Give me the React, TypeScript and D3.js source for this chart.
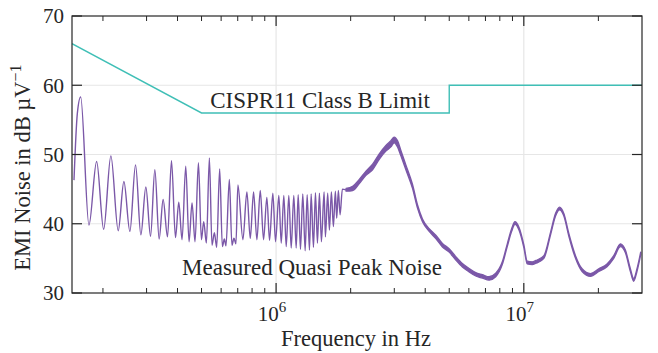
import React from "react";
import * as d3 from "d3";

// Measured quasi-peak noise, oscillating part (frequency in kHz, level in dB µV)
const oscFreqKHz = [
  152.8, 157.6, 162.6, 175.6, 188.6, 201.3, 215.3, 230.5, 243.0, 256.9, 270.8, 284.5, 298.0, 311.3,
  324.0, 337.2, 349.9, 364.5, 378.2, 392.5, 404.7, 417.2, 431.8, 445.2, 457.8, 470.7, 485.8, 499.5,
  510.3, 523.2, 537.9, 551.1, 563.5, 575.6, 591.9, 606.9, 618.2, 627.5, 647.6, 663.4, 675.8, 688.4,
  701.3, 734.6, 762.2, 786.6, 811.1, 836.4, 863.2, 890.0, 917.7, 941.0, 970.2, 994.8, 1025.8, 1048.9,
  1074.5, 1098.6, 1125.4, 1150.8, 1178.8, 1205.3, 1227.9, 1254.4, 1281.5, 1310.3, 1334.8, 1363.6,
  1385.3, 1415.2, 1441.7, 1468.7, 1495.8, 1523.8, 1562.4, 1581.4, 1615.5, 1641.2, 1671.9, 1703.2,
  1735.1, 1756.2, 1784.1, 1812.5, 1851.6, 1916,
];
const oscLevel = [
  46.3, 55.9, 58.3, 39.8, 49.0, 39.2, 49.8, 39.0, 46.1, 38.9, 48.5, 38.4, 45.3, 38.2,
  47.8, 37.8, 43.5, 38.1, 49.1, 38.0, 43.1, 37.7, 48.3, 37.4, 43.0, 37.4, 48.8, 37.7,
  40.3, 37.2, 49.5, 36.9, 38.7, 36.6, 47.9, 36.7, 37.8, 36.8, 46.4, 36.9, 37.9, 37.1,
  45.6, 37.7, 44.6, 37.9, 44.6, 37.7, 44.8, 37.7, 43.8, 37.6, 44.4, 37.4, 44.1, 37.2,
  44.1, 36.7, 44.1, 36.5, 44.1, 36.5, 44.2, 36.3, 44.3, 36.1, 44.2, 36.2,
  44.3, 36.6, 44.5, 37.2, 44.4, 37.4, 44.6, 38.1, 44.4, 39.1, 44.6, 39.6,
  44.7, 40.8, 44.8, 41.3, 45.0, 44.9,
];

// Measured noise, dense part drawn as a band (kHz, lower and upper level)
const bandFreqKHz = [
  1916, 2037, 2167, 2306, 2452, 2609, 2775, 2907, 2997, 3091, 3190, 3341, 3553, 3722, 3899, 4148,
  4414, 4693, 4995, 5314, 5649, 6013, 6397, 6801, 7238, 7701, 8187, 8575, 8933, 9211, 9559, 10012,
  10323, 10813, 11191, 12053, 12825, 13433, 13941, 14508, 15197, 16170, 17192, 18583, 20071, 21669,
  23070, 24547, 25711, 26931, 27767, 28630, 29630,
];
const bandLow = [
  44.7, 44.8, 45.8, 47.0, 47.8, 49.3, 50.5, 51.1, 51.7, 51.1, 49.8, 47.8, 45.1, 42.25, 40.3, 38.9,
  37.85, 36.65, 35.9, 34.75, 33.75, 33.05, 32.45, 32.15, 31.85, 32.35, 34.1, 36.7, 38.9, 39.9, 39.1, 36.5,
  34.2, 34.1, 34.3, 35.0, 38.4, 41.1, 42.0, 41.1, 38.2, 35.0, 33.1, 32.4, 33.1, 33.8,
  35.0, 36.7, 35.8, 33.1, 31.7, 33.1, 35.5,
];
const bandHigh = [
  45.1, 45.4, 46.4, 47.6, 48.6, 50.1, 51.3, 52.0, 52.5, 52.0, 50.6, 48.5, 45.7, 42.75, 40.7, 39.3,
  38.35, 37.15, 36.4, 35.25, 34.25, 33.55, 32.95, 32.65, 32.35, 32.85, 34.5, 37.1, 39.3, 40.3, 39.5, 36.9,
  34.6, 34.5, 34.7, 35.4, 38.8, 41.5, 42.4, 41.5, 38.6, 35.4, 33.5, 32.8, 33.5, 34.2,
  35.4, 37.1, 36.2, 33.5, 32.1, 33.5, 35.9,
];

// CISPR 11 Class B limit (Hz, dB µV)
const limitFreq = [150e3, 500e3, 5e6, 5e6, 30e6];
const limitLevel = [66, 56, 56, 60, 60];

const yTicks = [30, 40, 50, 60, 70];
const xMajor = [1e6, 1e7];
const xMinor = [
  2e5, 3e5, 4e5, 5e5, 6e5, 7e5, 8e5, 9e5, 2e6, 3e6, 4e6, 5e6, 6e6, 7e6, 8e6, 9e6, 2e7,
];
const xMajorExp = ["6", "7"];

const W = 658;
const H = 353;
const L = 72, R = 642, T = 16, B = 293;
const INK = "#262626";
const PURPLE = "#7b58a8";
const TEAL = "#3fbfb6";
const FONT = "'Liberation Serif', serif";

export default function App() {
  const x = d3.scaleLog().domain([1.5e5, 3e7]).range([L, R]);
  const y = d3.scaleLinear().domain([30, 70]).range([B, T]);

  const oscPts: [number, number][] = oscFreqKHz.map((f, i) => [x(f * 1e3), y(oscLevel[i])]);
  const oscPath = d3.line().curve(d3.curveMonotoneX)(oscPts) || "";

  const bandIdx = bandFreqKHz.map((_, i) => i);
  const bandPath =
    d3
      .area<number>()
      .curve(d3.curveMonotoneX)
      .x((i) => x(bandFreqKHz[i] * 1e3))
      .y0((i) => y(bandLow[i]))
      .y1((i) => y(bandHigh[i]))(bandIdx) || "";

  const limPath =
    d3.line()(limitFreq.map((f, i) => [x(f), y(limitLevel[i])] as [number, number])) || "";

  return (
    <svg
      width={W}
      height={H}
      style={{ position: "fixed", left: 0, top: 0, background: "#fff" }}
      fontFamily={FONT}
    >
      <rect x={0} y={0} width={W} height={H} fill="#fff" />
      {/* grid */}
      {yTicks.slice(1, -1).map((t) => (
        <line key={"gy" + t} x1={L} x2={R} y1={y(t)} y2={y(t)} stroke="#e6e6e6" strokeWidth={1.2} />
      ))}
      {xMajor.map((t) => (
        <line key={"gx" + t} x1={x(t)} x2={x(t)} y1={T} y2={B} stroke="#e6e6e6" strokeWidth={1.2} />
      ))}

      <defs>
        <clipPath id="plotclip">
          <rect x={L} y={T} width={R - L} height={B - T} />
        </clipPath>
      </defs>
      <g clipPath="url(#plotclip)">
        <path d={limPath} fill="none" stroke={TEAL} strokeWidth={1.4} />
        <path d={oscPath} fill="none" stroke={PURPLE} strokeWidth={1.4} strokeLinejoin="round" />
        <path d={bandPath} fill={PURPLE} stroke={PURPLE} strokeWidth={1.3} strokeLinejoin="round" />
      </g>

      {/* box */}
      <rect x={L} y={T} width={R - L} height={B - T} fill="none" stroke={INK} strokeWidth={1.2} />

      {/* y ticks */}
      {yTicks.map((t) => (
        <g key={"yt" + t}>
          <line x1={L} x2={L + 10} y1={y(t)} y2={y(t)} stroke={INK} strokeWidth={1.2} />
          <line x1={R - 10} x2={R} y1={y(t)} y2={y(t)} stroke={INK} strokeWidth={1.2} />
          <text x={L - 8} y={y(t)} dy="0.35em" textAnchor="end" fontSize={21} fill={INK}>
            {t}
          </text>
        </g>
      ))}

      {/* x ticks */}
      {xMajor.map((t, i) => (
        <g key={"xt" + t}>
          <line x1={x(t)} x2={x(t)} y1={B} y2={B - 10} stroke={INK} strokeWidth={1.2} />
          <line x1={x(t)} x2={x(t)} y1={T} y2={T + 10} stroke={INK} strokeWidth={1.2} />
          <text x={x(t) - 4} y={B + 28} textAnchor="middle" fontSize={21} fill={INK}>
            10
            <tspan fontSize={15} dy={-9}>
              {xMajorExp[i]}
            </tspan>
          </text>
        </g>
      ))}
      {xMinor.map((t) => (
        <g key={"xm" + t}>
          <line x1={x(t)} x2={x(t)} y1={B} y2={B - 5} stroke={INK} strokeWidth={1} />
          <line x1={x(t)} x2={x(t)} y1={T} y2={T + 5} stroke={INK} strokeWidth={1} />
        </g>
      ))}

      {/* annotations */}
      <text x={320} y={108} textAnchor="middle" fontSize={23} fill={INK}>
        CISPR11 Class B Limit
      </text>
      <text x={312} y={275} textAnchor="middle" fontSize={23} fill={INK}>
        Measured Quasi Peak Noise
      </text>

      {/* axis labels */}
      <text x={(L + R) / 2 - 1} y={346} textAnchor="middle" fontSize={22.5} fill={INK}>
        Frequency in Hz
      </text>
      <text
        transform={`translate(30, ${(T + B) / 2 + 13}) rotate(-90)`}
        textAnchor="middle"
        fontSize={22.5}
        fill={INK}
      >
        EMI Noise in dB µV
        <tspan fontSize={16} dy={-9}>
          −1
        </tspan>
      </text>
    </svg>
  );
}
